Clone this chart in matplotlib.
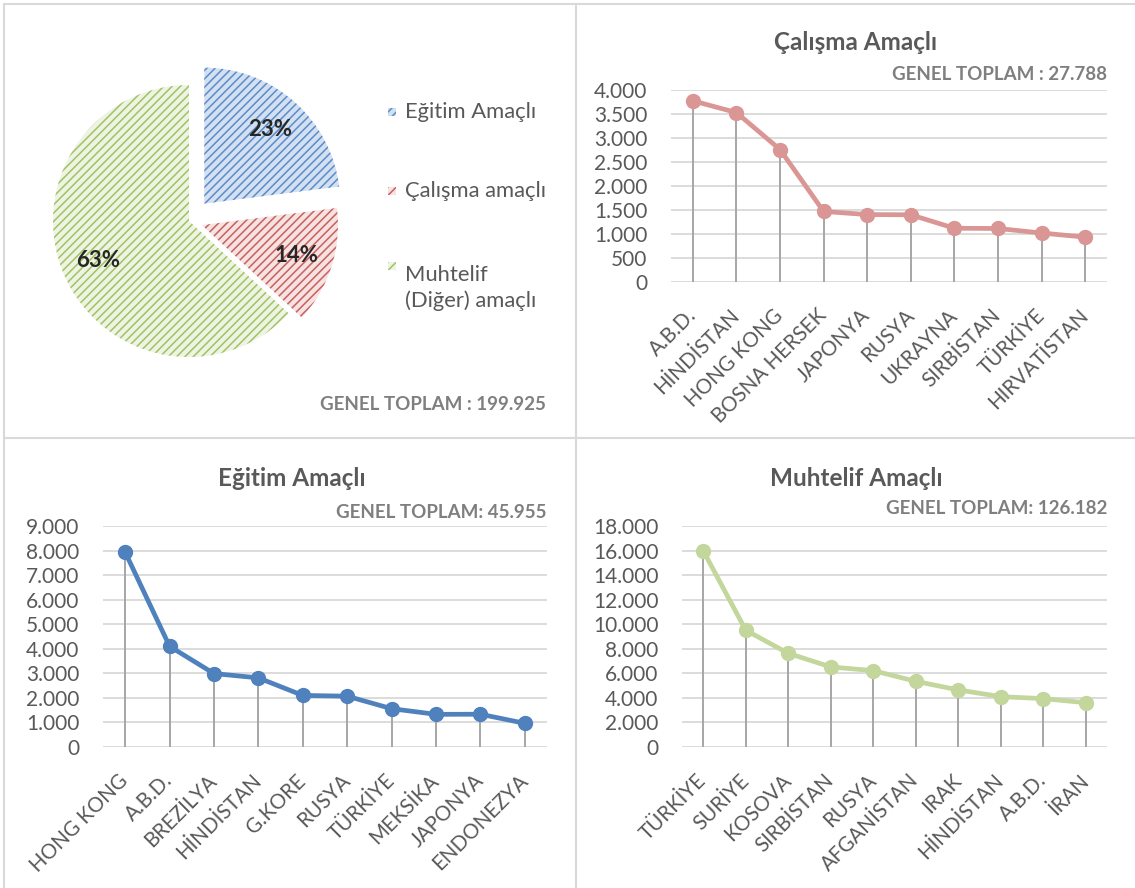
import matplotlib
matplotlib.use("Agg")
import matplotlib.pyplot as plt
from matplotlib.patches import Rectangle
from matplotlib.lines import Line2D

plt.rcParams['font.family'] = ['Lato', 'DejaVu Sans']
plt.rcParams['hatch.linewidth'] = 1.1

W, H = 1135, 888

# ---------------- DATA ----------------
pie_labels = ["Eğitim Amaçlı", "Çalışma amaçlı", "Muhtelif\n(Diğer) amaçlı"]
pie_values = [45955, 27788, 126182]

calisma_cats = ["A.B.D.", "HİNDİSTAN", "HONG KONG", "BOSNA HERSEK", "JAPONYA",
                "RUSYA", "UKRAYNA", "SIRBİSTAN", "TÜRKİYE", "HIRVATİSTAN"]
calisma_vals = [3775, 3530, 2760, 1470, 1405, 1400, 1120, 1115, 1020, 935]

egitim_cats = ["HONG KONG", "A.B.D.", "BREZİLYA", "HİNDİSTAN", "G.KORE",
               "RUSYA", "TÜRKİYE", "MEKSİKA", "JAPONYA", "ENDONEZYA"]
egitim_vals = [7930, 4100, 2990, 2815, 2100, 2070, 1560, 1330, 1335, 965]

muhtelif_cats = ["TÜRKİYE", "SURİYE", "KOSOVA", "SIRBİSTAN", "RUSYA",
                 "AFGANİSTAN", "IRAK", "HİNDİSTAN", "A.B.D.", "İRAN"]
muhtelif_vals = [15980, 9510, 7630, 6520, 6220, 5350, 4650, 4100, 3940, 3610]

TEXT = "#595959"
TOTAL = "#7f7f7f"
GRID = "#d9d9d9"


def rect(x0, y0, x1, y1):
    # pixel box (top-left origin) -> figure fraction
    return [x0 / W, 1 - y1 / H, (x1 - x0) / W, (y1 - y0) / H]


def ftext(x, y, s, **kw):
    fig.text(x / W, 1 - y / H, s, **kw)


def thousands(v):
    return f"{v:,}".replace(",", ".")


def line_panel(box, cats, vals, color, ymax, step, title, total, title_xy, total_xy):
    ax = fig.add_axes(rect(*box))
    x = list(range(len(cats)))
    ax.vlines(x, 0, vals, color="#a6a6a6", lw=1.4, zorder=2)
    ax.plot(x, vals, color=color, lw=3.4, marker="o", ms=10, zorder=3)
    ax.set_xlim(-0.5, len(cats) - 0.5)
    ax.set_ylim(0, ymax)
    ticks = list(range(0, ymax + 1, step))
    ax.set_yticks(ticks)
    ax.set_yticklabels([thousands(t) for t in ticks])
    ax.yaxis.grid(True, color=GRID, lw=1.3, zorder=0)
    ax.set_axisbelow(True)
    for s in ax.spines.values():
        s.set_visible(False)
    ax.tick_params(axis="y", length=0, pad=17, labelsize=15, labelcolor=TEXT)
    ax.tick_params(axis="x", length=0, pad=22, labelsize=14.8, labelcolor=TEXT)
    ax.set_xticks(x)
    ax.set_xticklabels(cats, rotation=45, ha="right", va="center",
                       rotation_mode="anchor")
    ftext(*title_xy, title, ha="center", va="center", fontsize=17.5,
          fontweight="bold", color=TEXT)
    ftext(*total_xy, total, ha="right", va="center", fontsize=13.5,
          fontweight="bold", color=TOTAL)
    return ax


fig = plt.figure(figsize=(W / 100, H / 100), dpi=100)

# ---------------- PANEL BORDERS ----------------
for xs, ys in [((4, 1135), (4, 4)), ((4, 4), (4, 888)),
               ((576, 576), (4, 888)), ((4, 1135), (438, 438))]:
    fig.add_artist(Line2D([xs[0] / W, xs[1] / W], [1 - ys[0] / H, 1 - ys[1] / H],
                          color=GRID, lw=1.5, transform=fig.transFigure))

# ---------------- PIE ----------------
face = ["#d3e0f2", "#f5e2e1", "#eef4e3"]
stripe = ["#5b8cc8", "#c8605d", "#a2c262"]
cx, cy, r = 189, 221, 136
half = r * 1.35
pax = fig.add_axes(rect(cx - half, cy - half, cx + half, cy + half))
wedges, _, autotexts = pax.pie(
    pie_values, startangle=90, counterclock=False, explode=[0.17, 0.10, 0.0],
    colors=face, autopct="%1.0f%%", pctdistance=0.73,
    wedgeprops=dict(linewidth=0, hatch="////"),
    textprops=dict(fontsize=16, fontweight="bold", color="#262626"))
for w, c in zip(wedges, stripe):
    w.set_edgecolor(c)
    w.set_linewidth(0)
pax.set_xlim(-1.35, 1.35)
pax.set_ylim(-1.35, 1.35)
pax.set_aspect("equal")
pax.axis("off")

# legend drawn by hand so the two-line entry keeps its spacing
leg_y = [112, 191, 266]
for lab, yy, fc, ec in zip(pie_labels, leg_y, face, stripe):
    sq = Rectangle((388 / W, 1 - (yy + 4) / H), 8 / W, 8 / H,
                   transform=fig.transFigure, facecolor=fc, edgecolor=ec,
                   hatch="////", lw=0)
    fig.add_artist(sq)
    ftext(405, yy - 1 if "\n" in lab else yy, lab, ha="left",
          va="top" if "\n" in lab else "center",
          fontsize=15.8, color=TEXT, linespacing=1.35)

ftext(546, 404, "GENEL TOPLAM : 199.925", ha="right", va="center",
      fontsize=13.5, fontweight="bold", color=TOTAL)

# ---------------- LINE PANELS ----------------
line_panel((671, 90, 1107, 282), calisma_cats, calisma_vals, "#da9694",
           4000, 500, "Çalışma Amaçlı", "GENEL TOPLAM : 27.788",
           (856, 42), (1107, 74))

line_panel((103, 526, 547, 747), egitim_cats, egitim_vals, "#4f81bd",
           9000, 1000, "Eğitim Amaçlı", "GENEL TOPLAM: 45.955",
           (292, 478), (547, 512))

line_panel((682, 526, 1107, 747), muhtelif_cats, muhtelif_vals, "#c3d69b",
           18000, 2000, "Muhtelif Amaçlı", "GENEL TOPLAM: 126.182",
           (856, 478), (1107, 509))

fig.savefig("out.png", dpi=100, facecolor="white")
